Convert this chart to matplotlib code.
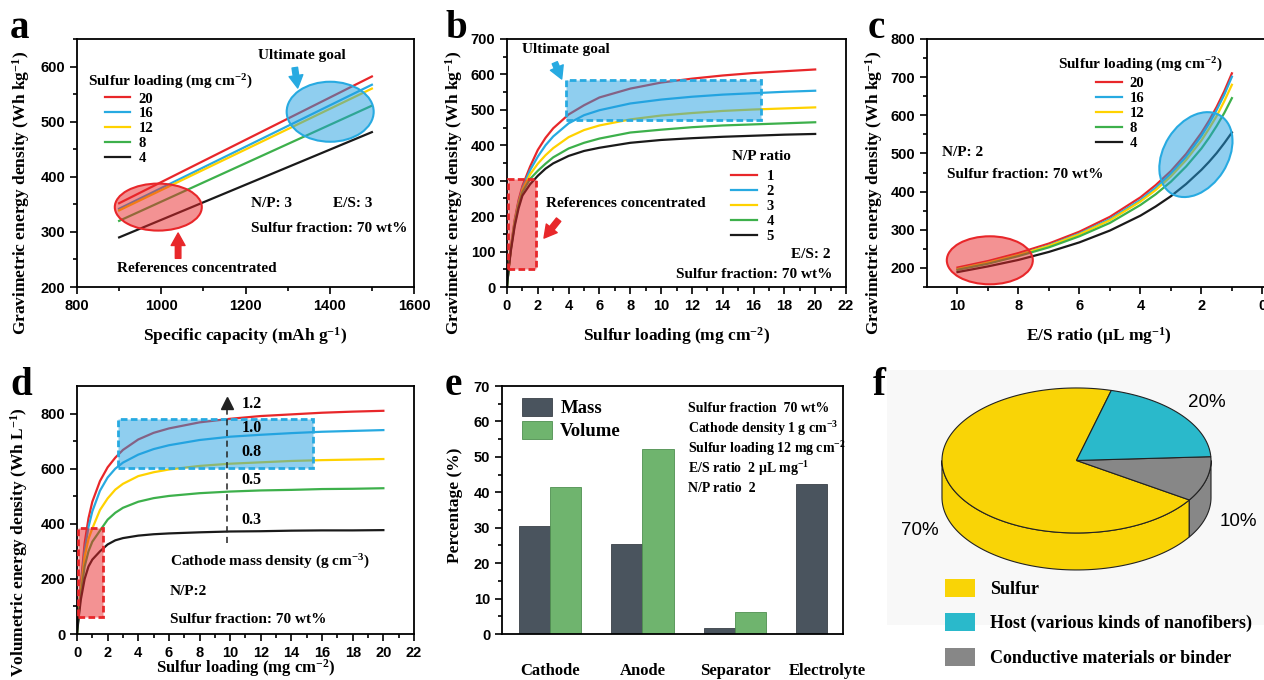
import numpy as np
import matplotlib
matplotlib.use("Agg")
import matplotlib.pyplot as plt
from matplotlib.patches import Ellipse, Rectangle, Polygon, Patch
from matplotlib.transforms import ScaledTranslation

plt.rcParams["font.family"] = ["Liberation Serif", "DejaVu Serif"]
plt.rcParams["font.weight"] = "bold"
plt.rcParams["axes.labelweight"] = "bold"
plt.rcParams["mathtext.fontset"] = "custom"
plt.rcParams["mathtext.rm"] = "Liberation Serif:bold"
plt.rcParams["mathtext.bf"] = "Liberation Serif:bold"
plt.rcParams["mathtext.it"] = "Liberation Serif:bold"
plt.rcParams["axes.linewidth"] = 1.3

RED = "#e8272a"
BLUE = "#27aae1"
YELLOW = "#ffd200"
GREEN = "#3db04b"
BLACK = "#1a1a1a"
COLORS = [RED, BLUE, YELLOW, GREEN, BLACK]

# ---- panel a: energy vs specific capacity ----
capacity = [900, 1500]
a_labels = ["20", "16", "12", "8", "4"]
a_s20 = [352, 582]
a_s16 = [342, 567]
a_s12 = [339, 560]
a_s8 = [320, 529]
a_s4 = [290, 481]

# ---- panel b: energy vs sulfur loading, N/P ratio ----
loading = [0, 0.1, 0.25, 0.5, 0.75, 1, 1.5, 2, 2.5, 3, 4, 5, 6, 8, 10, 12, 14, 16, 18, 20]
b_labels = ["1", "2", "3", "4", "5"]
b_np1 = [0, 50, 112, 190, 245, 285, 340, 387, 421, 448, 487, 513, 535, 560, 577, 588, 597, 604, 609, 614]
b_np2 = [0, 50, 110, 186, 240, 280, 330, 368, 400, 425, 462, 485, 499, 518, 529, 537, 543, 547, 551, 554]
b_np3 = [0, 50, 108, 182, 235, 274, 318, 348, 372, 392, 423, 443, 456, 473, 484, 491, 497, 501, 504, 507]
b_np4 = [0, 50, 106, 178, 230, 268, 305, 328, 348, 366, 391, 407, 419, 436, 444, 451, 456, 459, 462, 465]
b_np5 = [0, 48, 102, 172, 222, 258, 290, 314, 334, 349, 370, 384, 393, 407, 415, 420, 424, 427, 430, 432]

# ---- panel c: energy vs E/S ratio ----
es_ratio = [10, 9, 8, 7, 6, 5, 4, 3.5, 3, 2.5, 2, 1.75, 1.5, 1.25, 1]
c_s20 = [201, 218, 239, 264, 295, 334, 385, 417, 454, 499, 554, 586, 622, 663, 710]
c_s16 = [197, 214, 234, 259, 290, 328, 378, 410, 447, 491, 546, 578, 614, 654, 701]
c_s12 = [197, 214, 234, 258, 288, 325, 374, 404, 440, 483, 534, 565, 598, 637, 680]
c_s8 = [195, 211, 231, 254, 283, 318, 365, 393, 426, 466, 513, 541, 572, 606, 645]
c_s4 = [189, 204, 221, 242, 267, 298, 337, 361, 388, 420, 457, 478, 501, 527, 555]

# ---- panel d: volumetric energy vs sulfur loading, cathode density ----
d_labels = ["1.2", "1.0", "0.8", "0.5", "0.3"]
d_r12 = [0, 80, 180, 330, 420, 480, 555, 605, 640, 668, 706, 730, 746, 768, 781, 791, 797, 803, 807, 810]
d_r10 = [0, 75, 170, 305, 388, 445, 520, 568, 600, 622, 651, 671, 685, 704, 716, 723, 729, 734, 737, 740]
d_r08 = [0, 70, 160, 280, 345, 383, 450, 492, 524, 545, 573, 587, 597, 610, 618, 623, 628, 631, 633, 635]
d_r05 = [0, 65, 145, 245, 300, 335, 375, 415, 440, 458, 480, 493, 501, 511, 517, 521, 523, 526, 527, 529]
d_r03 = [0, 55, 125, 200, 245, 270, 300, 325, 340, 348, 357, 362, 365, 369, 372, 373, 375, 376, 376, 377]

# ---- panel e: mass / volume percentage ----
components = ["Cathode", "Anode", "Separator", "Electrolyte"]
mass_pct = [30.4, 25.5, 1.7, 42.4]
volume_pct = [41.5, 52.3, 6.1]

# ---- panel f: cathode composition ----
comp_names = ["Sulfur", "Host (various kinds of nanofibers)", "Conductive materials or binder"]
comp_pct = [70, 20, 10]
comp_colors = ["#f9d406", "#2ab9cb", "#878787"]

fig = plt.figure(figsize=(12.64, 6.8), dpi=100)


def px_axes(x0, y0, x1, y1):
    return fig.add_axes([x0 / 1264, 1 - y1 / 680, (x1 - x0) / 1264, (y1 - y0) / 680])


TICK_FONT = dict(fontfamily="Liberation Sans", fontweight="bold", fontsize=10.5)
TXT = dict(fontsize=11, fontweight="bold")
LEG = dict(frameon=False, borderpad=0, borderaxespad=0, handlelength=1.75, labelspacing=0.12,
           loc="upper left", prop=dict(size=10.5, weight="bold"))


def fmt(v):
    return str(int(v)) if float(v).is_integer() else str(v)


def style(ax, xt, xminor, yt, yminor):
    if xt is not None:
        ax.set_xticks(xt, [fmt(v) for v in xt], **TICK_FONT)
        ax.set_xticks(xminor, minor=True)
    ax.set_yticks(yt, [fmt(v) for v in yt], **TICK_FONT)
    ax.set_yticks(yminor, minor=True)
    ax.tick_params(which="both", direction="out", top=False, right=False, width=1.2)
    ax.tick_params(which="major", length=5)
    ax.tick_params(which="minor", length=3)


def ellipse(ax, xy, w, h, angle, face, edge):
    tr = fig.dpi_scale_trans + ScaledTranslation(xy[0], xy[1], ax.transData)
    ax.add_patch(Ellipse((0, 0), w / 100, h / 100, angle=angle, transform=tr,
                         fc=face, ec=edge, lw=1.5, zorder=4))


def arrow(ax, start, end, color):
    ax.annotate("", xy=end, xytext=start,
                arrowprops=dict(arrowstyle="simple,head_length=0.45,head_width=0.5,tail_width=0.2",
                                color=color, mutation_scale=20, shrinkA=0, shrinkB=0), zorder=5)


RED_FILL = (0.91, 0.15, 0.16, 0.5)
BLUE_FILL = (0.13, 0.62, 0.88, 0.5)

# ================= a =================
ax = px_axes(77, 39, 414, 287)
for ys, c, lab in zip([a_s20, a_s16, a_s12, a_s8, a_s4], COLORS, a_labels):
    ax.plot(capacity, ys, color=c, lw=1.6, label=lab)
ax.set_xlim(800, 1600)
ax.set_ylim(200, 650)
style(ax, [800, 1000, 1200, 1400, 1600], [900, 1100, 1300, 1500], [200, 300, 400, 500, 600],
      [250, 350, 450, 550, 650])
ax.set_xlabel("Specific capacity (mAh g$^{-1}$)", fontsize=12.5, labelpad=9)
ax.set_ylabel("Gravimetric energy density (Wh kg$^{-1}$)", fontsize=12.5)
ax.yaxis.set_label_coords(-0.133, 0.38)
ellipse(ax, (993, 345), 87, 47, 0, RED_FILL, RED)
ellipse(ax, (1401, 518), 87, 60, 0, BLUE_FILL, BLUE)
arrow(ax, (1317, 598), (1324, 561), BLUE)
arrow(ax, (1040, 252), (1040, 298), RED)
ax.text(0.667, 0.935, "Ultimate goal", transform=ax.transAxes, ha="center", va="center", **TXT)
ax.text(0.355, 0.075, "References concentrated", transform=ax.transAxes, ha="center", va="center", **TXT)
ax.text(0.515, 0.335, "N/P: 3", transform=ax.transAxes, va="center", **TXT)
ax.text(0.76, 0.335, "E/S: 3", transform=ax.transAxes, va="center", **TXT)
ax.text(0.515, 0.237, "Sulfur fraction: 70 wt%", transform=ax.transAxes, va="center", **TXT)
ax.text(0.034, 0.828, "Sulfur loading (mg cm$^{-2}$)", transform=ax.transAxes, va="center", **TXT)
ax.legend(bbox_to_anchor=(0.083, 0.785), handletextpad=0.55, **LEG)

# ================= b =================
ax = px_axes(507, 39, 846, 287)
for ys, c, lab in zip([b_np1, b_np2, b_np3, b_np4, b_np5], COLORS, b_labels):
    ax.plot(loading, ys, color=c, lw=1.6, label=lab)
ax.set_xlim(0, 22)
ax.set_ylim(0, 700)
style(ax, list(range(0, 23, 2)), list(range(1, 22, 2)), list(range(0, 701, 100)),
      list(range(50, 700, 100)))
ax.set_xlabel("Sulfur loading (mg cm$^{-2}$)", fontsize=12.5, labelpad=9)
ax.set_ylabel("Gravimetric energy density (Wh kg$^{-1}$)", fontsize=12.5)
ax.yaxis.set_label_coords(-0.124, 0.38)
ax.add_patch(Rectangle((3.8, 471), 12.7, 113, fc=BLUE_FILL, ec=BLUE, ls=(0, (2.4, 1.2)), lw=2, zorder=4))
ax.add_patch(Rectangle((0.09, 50), 1.78, 254, fc=RED_FILL, ec=RED, ls=(0, (2.4, 1.2)), lw=2, zorder=4))
arrow(ax, (3.1, 633), (3.55, 587), BLUE)
arrow(ax, (3.35, 190), (2.4, 138), RED)
ax.text(0.043, 0.956, "Ultimate goal", transform=ax.transAxes, va="center", **TXT)
ax.text(0.115, 0.335, "References concentrated", transform=ax.transAxes, va="center", **TXT)
ax.text(0.953, 0.133, "E/S: 2", transform=ax.transAxes, ha="right", va="center", **TXT)
ax.text(0.961, 0.051, "Sulfur fraction: 70 wt%", transform=ax.transAxes, ha="right", va="center", **TXT)
ax.text(0.663, 0.525, "N/P ratio", transform=ax.transAxes, va="center", **TXT)
ax.legend(bbox_to_anchor=(0.661, 0.472), handletextpad=0.7, **LEG)

# ================= c =================
ax = px_axes(927, 39, 1270, 287)
for ys, c, lab in zip([c_s20, c_s16, c_s12, c_s8, c_s4], COLORS, a_labels):
    ax.plot(es_ratio, ys, color=c, lw=1.6, label=lab)
ax.set_xlim(11, -0.25)
ax.set_ylim(150, 800)
style(ax, [10, 8, 6, 4, 2, 0], [9, 7, 5, 3, 1], list(range(200, 801, 100)),
      list(range(150, 800, 100)))
ax.set_xlabel("E/S ratio (μL mg$^{-1}$)", fontsize=12.5, labelpad=9)
ax.set_ylabel("Gravimetric energy density (Wh kg$^{-1}$)", fontsize=12.5)
ax.yaxis.set_label_coords(-0.122, 0.38)
ellipse(ax, (8.94, 220), 86, 48, 0, RED_FILL, RED)
ellipse(ax, (2.18, 497), 92, 64, 57.6, BLUE_FILL, BLUE)
ax.text(0.043, 0.543, "N/P: 2", transform=ax.transAxes, va="center", **TXT)
ax.text(0.057, 0.454, "Sulfur fraction: 70 wt%", transform=ax.transAxes, va="center", **TXT)
ax.text(0.382, 0.895, "Sulfur loading (mg cm$^{-2}$)", transform=ax.transAxes, va="center", **TXT)
ax.legend(bbox_to_anchor=(0.493, 0.848), handletextpad=0.55, **LEG)

# ================= d =================
ax = px_axes(77, 386, 414, 634)
for ys, c in zip([d_r12, d_r10, d_r08, d_r05, d_r03], COLORS):
    ax.plot(loading, ys, color=c, lw=1.6)
ax.set_xlim(0, 22)
ax.set_ylim(0, 900)
style(ax, list(range(0, 23, 2)), list(range(1, 22, 2)), [0, 200, 400, 600, 800],
      [100, 300, 500, 700])
ax.set_xlabel("Sulfur loading (mg cm$^{-2}$)", fontsize=12)
ax.xaxis.set_label_coords(0.5, -0.095)
ax.set_ylabel("Volumetric energy density (Wh L$^{-1}$)", fontsize=12.5)
ax.yaxis.set_label_coords(-0.139, 0.37)
ax.add_patch(Rectangle((2.7, 601), 12.7, 179, fc=BLUE_FILL, ec=BLUE, ls=(0, (2.4, 1.2)), lw=2, zorder=4))
ax.add_patch(Rectangle((0.09, 60), 1.63, 326, fc=RED_FILL, ec=RED, ls=(0, (2.4, 1.2)), lw=2, zorder=4))
ax.plot([9.77, 9.77], [329, 830], ls=(0, (4, 3)), color="#222", lw=1.1, zorder=5)
ax.plot([9.77], [838], marker="^", ms=8, color="#222", zorder=5)
for lab, yy in zip(d_labels, [835, 746, 662, 559, 414]):
    ax.text(10.75, yy, lab, va="center", fontsize=11.5, fontweight="bold", zorder=6)
ax.text(6.07, 262, "Cathode mass density (g cm$^{-3}$)", va="center", **TXT)
ax.text(6.07, 154, "N/P:2", va="center", **TXT)
ax.text(6.07, 53, "Sulfur fraction: 70 wt%", va="center", **TXT)

# ================= e =================
ax = px_axes(502, 386, 843, 634)
pos = np.arange(len(components))
w = 0.337
ax.bar(pos - w / 2, mass_pct, w, color="#4a545e", edgecolor="#3a4048", lw=0.6, label="Mass")
ax.bar(pos[:len(volume_pct)] + w / 2, volume_pct, w, color="#6fb46e", edgecolor="#4f8f50", lw=0.6,
       label="Volume")
ax.set_xlim(-0.52, 3.17)
ax.set_ylim(0, 70)
style(ax, None, None, list(range(0, 71, 10)), list(range(5, 70, 10)))
ax.set_xticks(pos, components, fontsize=12, fontweight="bold")
ax.tick_params(axis="x", length=0, pad=21)
ax.set_ylabel("Percentage (%)", fontsize=12.5)
ax.yaxis.set_label_coords(-0.114, 0.52)
ax.legend(loc="upper left", bbox_to_anchor=(0.058, 0.953), frameon=False, borderpad=0,
          borderaxespad=0, handlelength=1.6, handleheight=1.1, handletextpad=0.45,
          labelspacing=0.2, prop=dict(size=13.5, weight="bold"))
info = ["Sulfur fraction  70 wt%", "Cathode density 1 g cm$^{-3}$", "Sulfur loading 12 mg cm$^{-2}$",
        "E/S ratio  2 μL mg$^{-1}$", "N/P ratio  2"]
for i, s in enumerate(info):
    ax.text(0.546, 0.910 - i * 0.0806, s, transform=ax.transAxes, va="center", fontsize=10,
            fontweight="bold")

# ================= f =================
ax = px_axes(868, 362, 1264, 680)
ax.set_xlim(-1.550, 1.394)
ax.set_ylim(-1.632, 0.732)
ax.axis("off")
ax.add_patch(Rectangle((0.048, 0.173), 0.952, 0.802, transform=ax.transAxes, fc="#f8f8f8",
                       ec="none", zorder=0))

rx, ry, depth = 1.0, 0.539, 0.275
order = [0, 2, 1]  # drawn counter-clockwise from the top-left boundary
vals = [comp_pct[i] for i in order]
edges = 75 + np.concatenate([[0], np.cumsum(vals)]) / sum(vals) * 360
for k, i in enumerate(order):
    t1, t2 = edges[k], edges[k + 1]
    c = comp_colors[i]
    for off in (0, 360):
        lo, hi = max(t1, 180 + off), min(t2, 360 + off)
        if hi > lo:
            t = np.radians(np.linspace(lo, hi, 80))
            xs, ys = rx * np.cos(t), ry * np.sin(t)
            pts = np.concatenate([np.column_stack([xs, ys]),
                                  np.column_stack([xs[::-1], ys[::-1] - depth])])
            ax.add_patch(Polygon(pts, closed=True, fc=c, ec="#222", lw=0.8, zorder=2))
    t = np.radians(np.linspace(t1, t2, 150))
    pts = np.vstack([[0, 0], np.column_stack([rx * np.cos(t), ry * np.sin(t)])])
    ax.add_patch(Polygon(pts, closed=True, fc=c, ec="#222", lw=0.8, zorder=3))

for v, (lx, ly) in zip(comp_pct, [(-1.164, -0.517), (0.97, 0.428), (1.2, -0.457)]):
    ax.text(lx, ly, f"{v}%", ha="center", va="center", fontsize=13.5, fontweight="normal",
            fontfamily="Liberation Sans")
ax.legend(handles=[Patch(fc=c, ec="none") for c in comp_colors], labels=comp_names,
          loc="upper left", bbox_to_anchor=(0.194, 0.318), frameon=False, borderpad=0,
          borderaxespad=0, handlelength=1.65, handleheight=1.15, handletextpad=0.85,
          labelspacing=0.85, prop=dict(size=13, weight="bold"))

# panel letters
for letter, (lx, ly) in zip("abcdef", [(10, 38), (445, 38), (868, 38), (10, 395), (445, 395), (873, 395)]):
    fig.text(lx / 1264, 1 - ly / 680, letter, fontsize=28, fontweight="bold", va="baseline")

fig.savefig("out.png", dpi=100)
